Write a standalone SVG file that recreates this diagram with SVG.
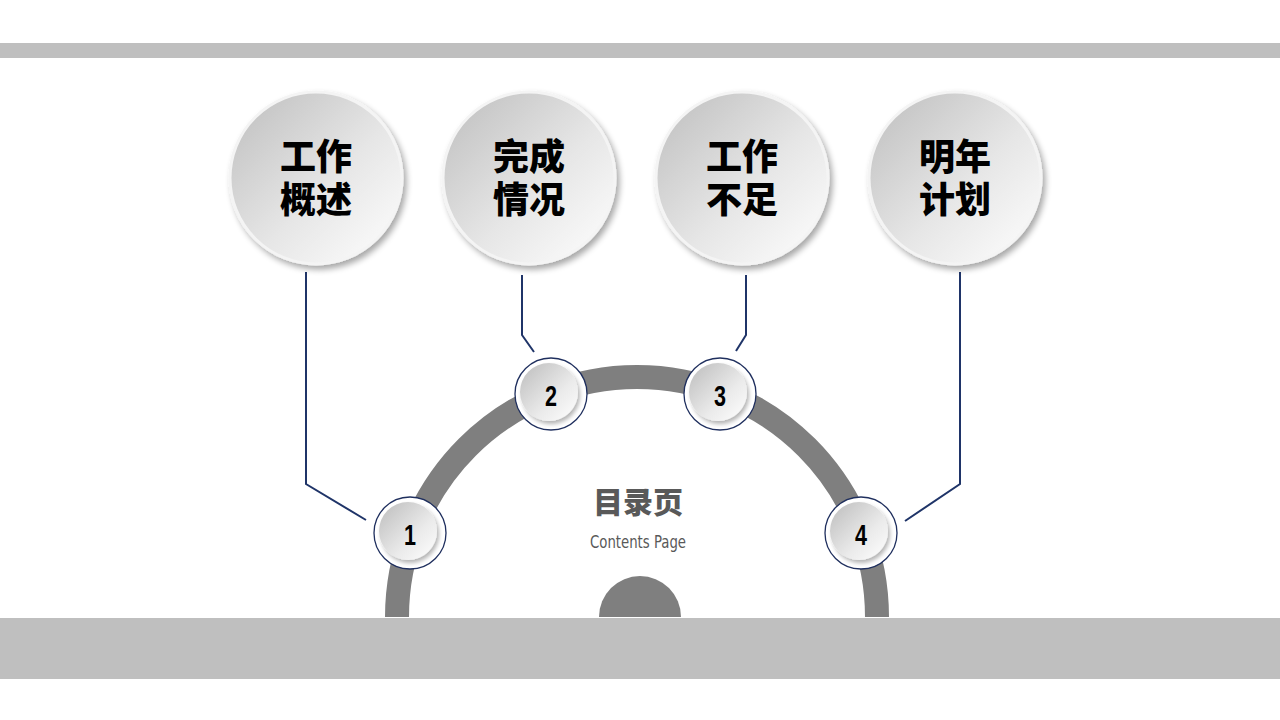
<svg xmlns="http://www.w3.org/2000/svg" width="1280" height="720" viewBox="0 0 1280 720">
<defs>
<linearGradient id="gBig" x1="0" y1="0" x2="1" y2="1">
<stop offset="0" stop-color="#bdbdbd"/>
<stop offset="0.55" stop-color="#e6e6e6"/>
<stop offset="1" stop-color="#ffffff"/>
</linearGradient>
<linearGradient id="gSmall" x1="0" y1="0" x2="1" y2="1">
<stop offset="0" stop-color="#bcbcbc"/>
<stop offset="0.6" stop-color="#eaeaea"/>
<stop offset="1" stop-color="#ffffff"/>
</linearGradient>
<filter id="shadow" x="-30%" y="-30%" width="160%" height="160%">
<feGaussianBlur in="SourceAlpha" stdDeviation="3"/>
<feOffset dx="3" dy="4" result="b"/>
<feComponentTransfer><feFuncA type="linear" slope="0.35"/></feComponentTransfer>
<feMerge><feMergeNode/><feMergeNode in="SourceGraphic"/></feMerge>
</filter>
<filter id="shadowS" x="-30%" y="-30%" width="160%" height="160%">
<feGaussianBlur in="SourceAlpha" stdDeviation="2"/>
<feOffset dx="2" dy="3" result="b"/>
<feComponentTransfer><feFuncA type="linear" slope="0.3"/></feComponentTransfer>
<feMerge><feMergeNode/><feMergeNode in="SourceGraphic"/></feMerge>
</filter>
</defs>
<style>
.bar{fill:#bfbfbf}
.big{fill:url(#gBig);stroke:#f4f4f4;stroke-width:3;filter:url(#shadow)}
.bigt{font-family:"Noto Sans CJK SC","Noto Sans",sans-serif;font-weight:900;font-size:36px;fill:#000;text-anchor:middle}
.ring{fill:#fff;stroke:#1f2f5e;stroke-width:1.3}
.inner{fill:url(#gSmall);filter:url(#shadowS)}
.num{font-family:"Liberation Sans","DejaVu Sans",sans-serif;font-weight:bold;font-size:30px;fill:#000;text-anchor:middle}
.conn{fill:none;stroke:#1f3468;stroke-width:2}
</style>
<rect class="bar" x="0" y="43" width="1280" height="15"/>
<g id="arc">
<path d="M397 617 A240 240 0 0 1 877 617" fill="none" stroke="#7f7f7f" stroke-width="24"/>
<path d="M599 617 A41 41 0 0 1 681 617 Z" fill="#7f7f7f"/>
</g>
<rect class="bar" x="0" y="618" width="1280" height="61"/>
<g id="connectors">
<polyline class="conn" points="306,272 306,484 366,520"/>
<polyline class="conn" points="522,275 522,335 534,352"/>
<polyline class="conn" points="746,275 746,335 736,351"/>
<polyline class="conn" points="960,272 960,484 905,521"/>
</g>
<g id="node-a">
<circle class="big" cx="316" cy="178" r="86"/>
<text class="bigt" x="316" y="170">工作<tspan x="316" dy="43">概述</tspan></text>
</g>
<g id="node-b">
<circle class="big" cx="529" cy="178" r="86"/>
<text class="bigt" x="529" y="170">完成<tspan x="529" dy="43">情况</tspan></text>
</g>
<g id="node-c">
<circle class="big" cx="742" cy="178" r="86"/>
<text class="bigt" x="742" y="170">工作<tspan x="742" dy="43">不足</tspan></text>
</g>
<g id="node-d">
<circle class="big" cx="955" cy="178" r="86"/>
<text class="bigt" x="955" y="170">明年<tspan x="955" dy="43">计划</tspan></text>
</g>
<g id="n1">
<circle class="ring" cx="410" cy="533" r="36"/>
<circle class="inner" cx="408" cy="531" r="29"/>
<text class="num" x="410" y="545" transform="translate(410 0) scale(0.72 1) translate(-410 0)">1</text>
</g>
<g id="n2">
<circle class="ring" cx="551" cy="394" r="36"/>
<circle class="inner" cx="549" cy="392" r="29"/>
<text class="num" x="551" y="406" transform="translate(551 0) scale(0.72 1) translate(-551 0)">2</text>
</g>
<g id="n3">
<circle class="ring" cx="720" cy="394" r="36"/>
<circle class="inner" cx="718" cy="392" r="29"/>
<text class="num" x="720" y="406" transform="translate(720 0) scale(0.72 1) translate(-720 0)">3</text>
</g>
<g id="n4">
<circle class="ring" cx="861" cy="533" r="36"/>
<circle class="inner" cx="859" cy="531" r="29"/>
<text class="num" x="861" y="545" transform="translate(861 0) scale(0.72 1) translate(-861 0)">4</text>
</g>
<g id="title">
<text x="638" y="513" font-family="Noto Sans CJK SC,sans-serif" font-weight="900" font-size="30" fill="#595959" text-anchor="middle">目录页</text>
<text x="638" y="548" font-family="DejaVu Sans Condensed,Liberation Sans,sans-serif" font-size="18" fill="#595959" text-anchor="middle" textLength="96" lengthAdjust="spacingAndGlyphs">Contents Page</text>
</g>
</svg>
